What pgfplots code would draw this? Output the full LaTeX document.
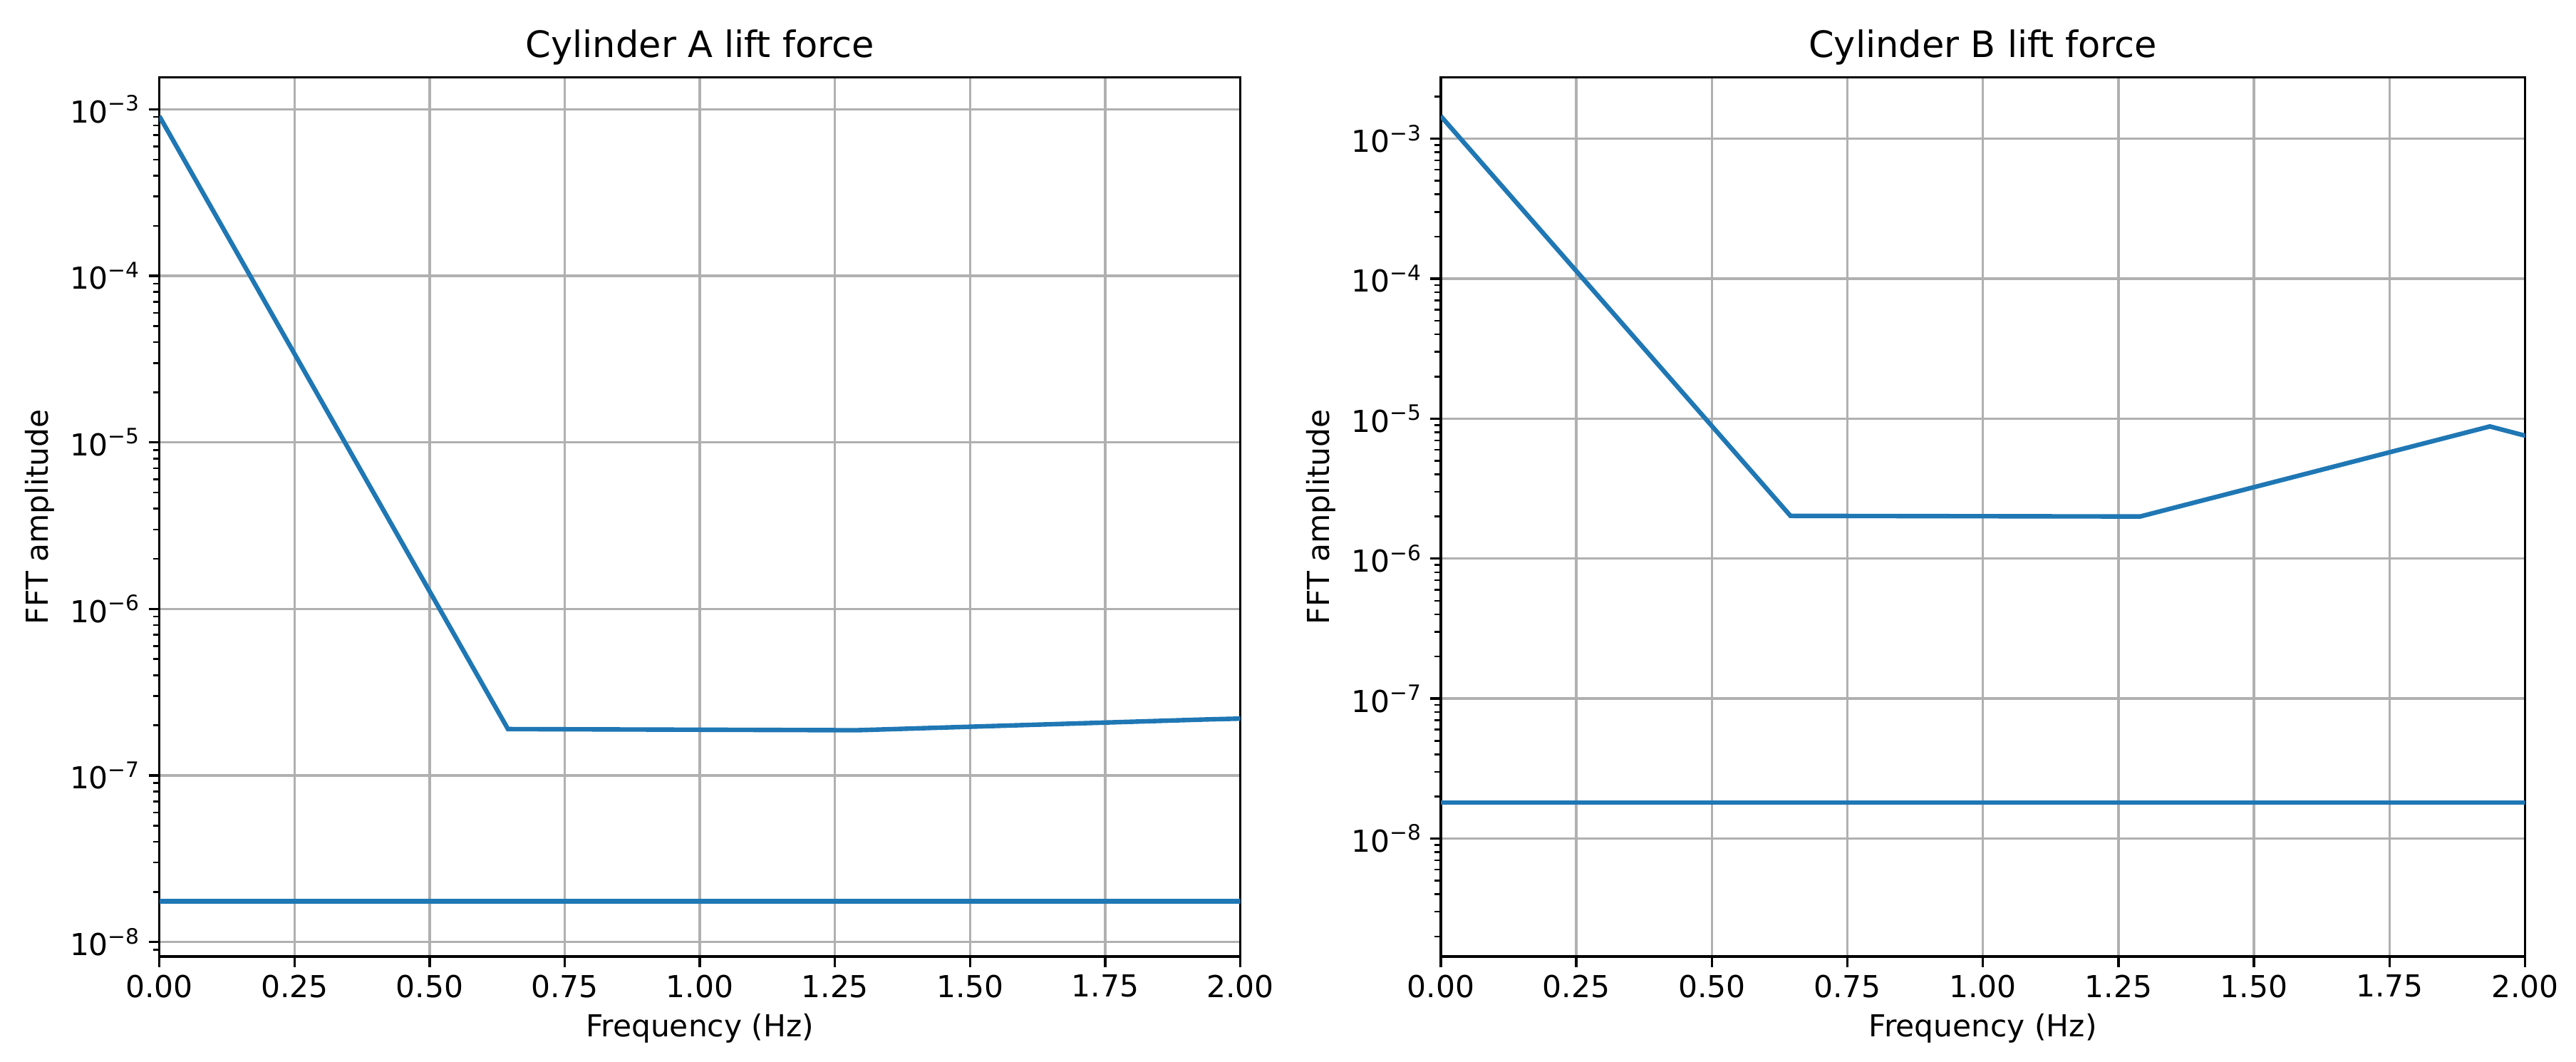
\documentclass[border=0pt]{standalone}
\usepackage{fontspec}
\setmainfont{DejaVu Sans}
\usepackage{pgfplots}
\usepackage{pgfplotstable}
\pgfplotsset{compat=1.18}

\definecolor{mplblue}{HTML}{1F77B4}
\definecolor{gridgray}{HTML}{B0B0B0}

% FFT amplitude of the lift force
\pgfplotstableread{
f amp
0.000 9.10e-4
0.645 1.90e-7
1.290 1.87e-7
1.935 2.17e-7
2.580 2.45e-7
}\liftA
\pgfplotstableread{
f amp
0.000 1.76e-8
0.645 1.76e-8
1.290 1.76e-8
1.935 1.76e-8
2.580 1.76e-8
}\liftAlow
\pgfplotstableread{
f amp
0.000 1.45e-3
0.645 2.02e-6
1.290 2.00e-6
1.935 8.80e-6
2.580 1.95e-6
}\liftB
\pgfplotstableread{
f amp
0.000 1.81e-8
0.645 1.81e-8
1.290 1.81e-8
1.935 1.81e-8
2.580 1.81e-8
}\liftBlow

\pgfplotsset{
  every axis/.append style={
    scale only axis, height=5.35in,
    xmin=0, xmax=2,
    xtick={0,0.25,0.5,0.75,1,1.25,1.5,1.75,2},
    xticklabel style={/pgf/number format/.cd, fixed, fixed zerofill, precision=2, assume math mode=true},
    tick pos=left, tick align=outside,
    major tick length=4.7pt, minor tick length=2.7pt,
    every major tick/.append style={line width=1.07pt, black},
    every minor tick/.append style={line width=0.8pt, black},
    grid=major,
    major grid style={gridgray, line width=1.07pt},
    axis line style={line width=1.07pt},
    ticklabel style={font=\fontsize{13.3}{16}\selectfont},
    label style={font=\fontsize{13.3}{16}\selectfont},
    title style={font=\fontsize{16}{19}\selectfont, yshift=-4pt},
    xlabel={Frequency (Hz)}, ylabel={FFT amplitude},
  },
}

\begin{document}
\begin{tikzpicture}
\useasboundingbox (0,0) rectangle (15.68in,6.46in);
\begin{axis}[at={(0.97in,0.64in)}, anchor=south west, width=6.58in,
  ymode=log, log basis y=10,
  ymin=8.2e-9, ymax=1.56e-3,
  ytick={1e-8,1e-7,1e-6,1e-5,1e-4,1e-3},
  yticklabels={10\textsuperscript{−8},10\textsuperscript{−7},10\textsuperscript{−6},10\textsuperscript{−5},10\textsuperscript{−4},10\textsuperscript{−3}},
  minor ytick={9e-9,
      2e-8,3e-8,4e-8,5e-8,6e-8,7e-8,8e-8,9e-8,
      2e-7,3e-7,4e-7,5e-7,6e-7,7e-7,8e-7,9e-7,
      2e-6,3e-6,4e-6,5e-6,6e-6,7e-6,8e-6,9e-6,
      2e-5,3e-5,4e-5,5e-5,6e-5,7e-5,8e-5,9e-5,
      2e-4,3e-4,4e-4,5e-4,6e-4,7e-4,8e-4,9e-4},
  title={Cylinder A lift force}]
  \addplot[mplblue, line width=2pt, no marks] table[x=f, y=amp] {\liftA};
  \addplot[mplblue, line width=2pt, no marks] table[x=f, y=amp] {\liftAlow};
\end{axis}
\begin{axis}[at={(8.77in,0.64in)}, anchor=south west, width=6.60in,
  ymode=log, log basis y=10,
  ymin=1.44e-9, ymax=2.75e-3,
  ytick={1e-8,1e-7,1e-6,1e-5,1e-4,1e-3},
  yticklabels={10\textsuperscript{−8},10\textsuperscript{−7},10\textsuperscript{−6},10\textsuperscript{−5},10\textsuperscript{−4},10\textsuperscript{−3}},
  minor ytick={2e-9,3e-9,4e-9,5e-9,6e-9,7e-9,8e-9,9e-9,
      2e-8,3e-8,4e-8,5e-8,6e-8,7e-8,8e-8,9e-8,
      2e-7,3e-7,4e-7,5e-7,6e-7,7e-7,8e-7,9e-7,
      2e-6,3e-6,4e-6,5e-6,6e-6,7e-6,8e-6,9e-6,
      2e-5,3e-5,4e-5,5e-5,6e-5,7e-5,8e-5,9e-5,
      2e-4,3e-4,4e-4,5e-4,6e-4,7e-4,8e-4,9e-4,
      2e-3},
  title={Cylinder B lift force}]
  \addplot[mplblue, line width=2pt, no marks] table[x=f, y=amp] {\liftB};
  \addplot[mplblue, line width=2pt, no marks] table[x=f, y=amp] {\liftBlow};
\end{axis}
\end{tikzpicture}
\end{document}
